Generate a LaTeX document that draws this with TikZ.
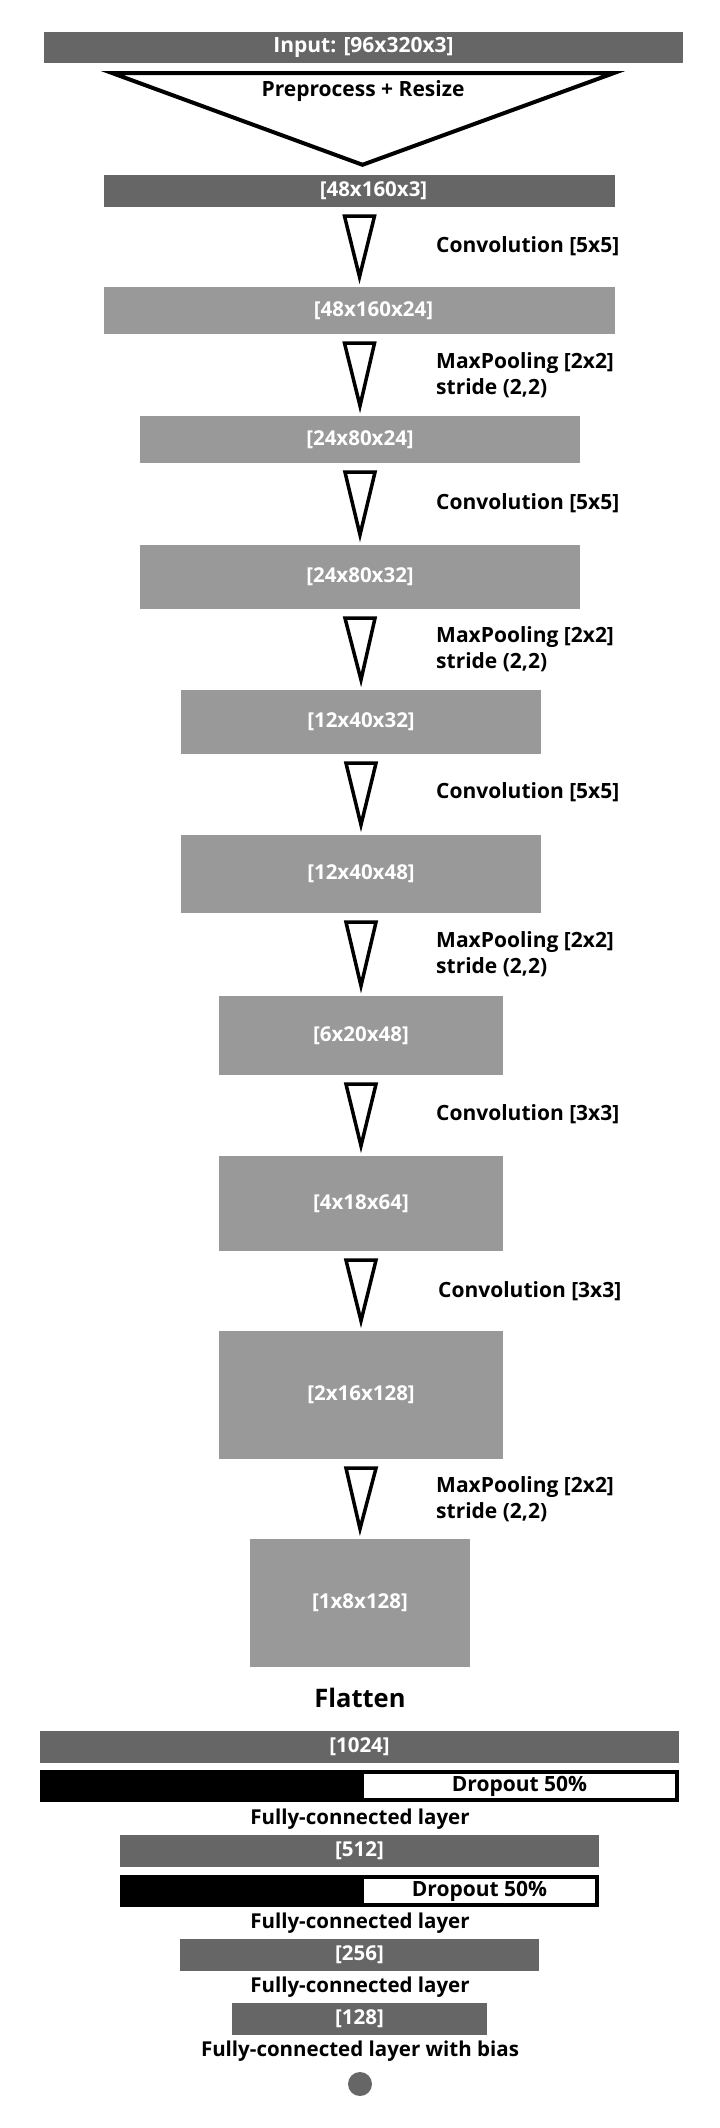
\documentclass[tikz,border=0pt]{standalone}
\usepackage{fontspec}
\setmainfont{Open Sans}
\usetikzlibrary{calc}
\definecolor{darkbar}{HTML}{666666}
\definecolor{lightbar}{HTML}{999999}
\begin{document}
\begin{tikzpicture}[x=1pt,y=-1pt,
  barbase/.style={rectangle,inner sep=0pt,text=white,font=\fontsize{20.5}{24}\selectfont\bfseries},
  darkb/.style={barbase,fill=darkbar},
  lightb/.style={barbase,fill=lightbar},
  lbl/.style={font=\fontsize{21}{26}\selectfont\bfseries,anchor=west,inner sep=0pt,align=left},
  ctext/.style={font=\fontsize{20.5}{24}\selectfont\bfseries,inner sep=0pt},
  arr/.style={draw=black,line width=3.5pt,fill=white,line join=miter},
  drop/.style={rectangle,inner sep=0pt,fill=black},
  dropin/.style={rectangle,inner sep=0pt,fill=white,font=\fontsize{21}{24}\selectfont\bfseries}
]
\useasboundingbox (0,0) rectangle (720,2128);
\fill[white] (0,0) rectangle (720,2128);
% helper: bars by corners
\newcommand{\mybar}[7]{\node[#1,minimum width={#4-#3},minimum height={#6-#5}] (#2) at ({(#3+#4)/2},{(#5+#6)/2}) {#7};}
\mybar{darkb}{in}{44}{683}{32}{63}{\fontsize{21}{24}\selectfont Input: [96x320x3]}
\coordinate (tl) at (112,73);
\coordinate (tr) at (614,73);
\mybar{darkb}{b1}{104}{615}{175}{207}{\hspace*{28pt}[48x160x3]}
\draw[arr,line width=4pt] (tl) -- (tr) -- ($(b1.north)+(3,-10)$) -- cycle;
\node[ctext,font=\fontsize{21}{24}\selectfont\bfseries] (pre) at (363,91) {Preprocess + Resize};
\mybar{lightb}{b2}{104}{615}{287}{334}{\hspace*{28pt}[48x160x24]}
\mybar{lightb}{b3}{140}{580}{416}{463}{[24x80x24]}
\mybar{lightb}{b4}{140}{580}{545}{609}{[24x80x32]}
\mybar{lightb}{b5}{181}{541}{690}{754}{[12x40x32]}
\mybar{lightb}{b6}{181}{541}{835}{913}{[12x40x48]}
\mybar{lightb}{b7}{219}{503}{996}{1075}{[6x20x48]}
\mybar{lightb}{b8}{219}{503}{1156}{1251}{[4x18x64]}
\mybar{lightb}{b9}{219}{503}{1331}{1459}{[2x16x128]}
\mybar{lightb}{b10}{250}{470}{1539}{1667}{[1x8x128]}
% arrows between layers
\foreach \a/\b in {b1/b2,b2/b3,b3/b4,b4/b5,b5/b6,b6/b7,b7/b8,b8/b9,b9/b10}{
  \draw[arr] ($(\a.south)+(-15,9)$ -| 344,0) -- ($(\a.south)+(15,9)$ -| 375,0) -- ($(\b.north)+(0,-10)$ -| 360,0) -- cycle;
}
% labels
\node[lbl] (l1) at (436,246) {Convolution [5x5]};
\node[lbl] (l2) at (436,375) {MaxPooling [2x2]\\stride (2,2)};
\node[lbl] (l3) at (436,503) {Convolution [5x5]};
\node[lbl] (l4) at (436,649) {MaxPooling [2x2]\\stride (2,2)};
\node[lbl] (l5) at (436,792) {Convolution [5x5]};
\node[lbl] (l6) at (436,954) {MaxPooling [2x2]\\stride (2,2)};
\node[lbl] (l7) at (436,1114) {Convolution [3x3]};
\node[lbl] (l8) at (438,1291) {Convolution [3x3]};
\node[lbl] (l9) at (436,1499) {MaxPooling [2x2]\\stride (2,2)};
% flatten
\node[ctext,font=\fontsize{25.5}{30}\selectfont\bfseries] (fl) at (360,1698) {Flatten};
\mybar{darkb}{f1}{40}{679}{1731}{1763}{[1024]}
\mybar{drop}{d1}{40}{679}{1770}{1802}{}
\mybar{dropin}{d1i}{364}{675}{1774}{1798}{Dropout 50\%}
\node[ctext] (fc1) at (360,1819) {Fully-connected layer};
\mybar{darkb}{f2}{120}{599}{1835}{1867}{[512]}
\mybar{drop}{d2}{120}{599}{1875}{1907}{}
\mybar{dropin}{d2i}{364}{595}{1879}{1903}{Dropout 50\%}
\node[ctext] (fc2) at (360,1923) {Fully-connected layer};
\mybar{darkb}{f3}{180}{539}{1939}{1971}{[256]}
\node[ctext] (fc3) at (360,1987) {Fully-connected layer};
\mybar{darkb}{f4}{232}{487}{2003}{2035}{[128]}
\node[ctext] (fc4) at (360,2051) {Fully-connected layer with bias};
\node[circle,fill=darkbar,minimum size=24pt,inner sep=0pt] (out) at (360,2084) {};
\end{tikzpicture}
\end{document}
